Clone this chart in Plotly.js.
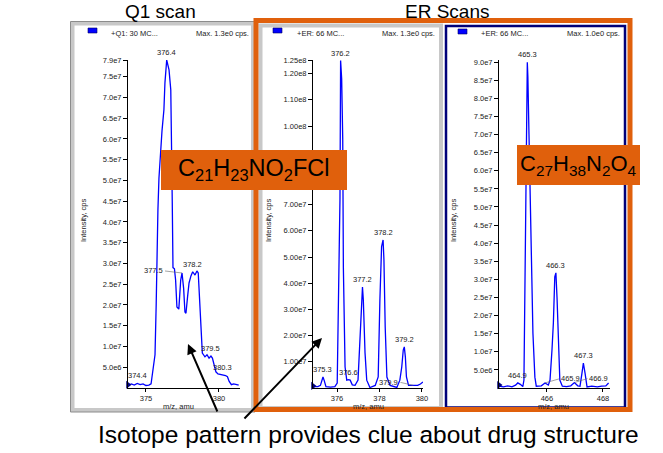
<!DOCTYPE html>
<html>
<head>
<meta charset="utf-8">
<script src="https://cdn.plot.ly/plotly-3.0.1.min.js"></script>
<style>html,body{margin:0;padding:0;background:#fff}#chart{width:663px;height:453px}</style>
</head>
<body>
<div id="chart"></div>
<script>
// ---------- DATA (intensities in units of 1e7 cps) ----------
// Q1 scan profile
const q1Mz  = [373.80,374.00,374.20,374.40,374.60,374.80,375.00,375.20,375.35,375.48,375.62,375.70,375.75,375.82,375.89,376.00,376.10,376.23,376.30,376.42,376.50,376.58,376.70,376.76,376.80,376.85,376.95,377.03,377.12,377.25,377.38,377.47,377.58,377.67,377.74,377.85,377.95,378.08,378.20,378.36,378.49,378.58,378.66,378.72,378.78,378.86,379.04,379.18,379.32,379.45,379.55,379.65,379.79,379.93,380.10,380.27,380.45,380.58,380.70,380.85,381.00,381.15,381.35];
const q1Int = [0.06,0.10,0.07,0.11,0.08,0.10,0.06,0.07,0.10,0.50,0.80,2.00,3.30,4.30,5.06,5.80,6.20,6.70,7.35,7.90,7.80,7.66,7.18,6.10,4.50,2.90,2.87,2.60,1.95,1.90,2.60,2.77,2.40,1.83,1.80,2.20,2.53,2.70,2.80,2.72,2.82,2.77,2.20,1.50,1.05,0.84,0.75,0.80,0.72,0.77,0.72,0.60,0.39,0.34,0.33,0.31,0.30,0.27,0.16,0.08,0.10,0.09,0.07];
// ER scan 1 profile
const er1Mz  = [374.87,375.10,375.22,375.28,375.34,375.40,375.48,375.70,375.90,376.01,376.06,376.11,376.14,376.17,376.22,376.27,376.28,376.30,376.38,376.46,376.55,376.62,376.72,376.85,376.99,377.08,377.15,377.20,377.24,377.32,377.40,377.55,377.80,377.94,378.02,378.10,378.17,378.21,378.27,378.35,378.50,378.82,378.96,379.05,379.12,379.17,379.22,379.27,379.37,379.60,379.80,379.93,380.05];
const er1Int = [0.05,0.05,0.10,0.30,0.42,0.28,0.05,0.03,0.05,0.19,3.10,5.90,7.20,12.5,11.8,9.50,7.20,4.60,0.80,0.30,0.32,0.30,0.12,0.10,0.30,2.10,3.50,3.85,3.36,1.34,0.30,0.02,0.10,0.42,3.36,5.40,5.65,4.90,2.33,0.42,0.10,0.02,0.30,0.80,1.45,1.57,1.18,0.42,0.10,0.10,0.10,0.15,0.23];
// ER scan 2 profile
const er2Mz  = [464.29,464.45,464.60,464.75,464.88,464.96,465.05,465.14,465.18,465.21,465.25,465.28,465.30,465.32,465.36,465.40,465.46,465.50,465.57,465.62,465.80,465.93,466.05,466.11,466.18,466.23,466.28,466.32,466.36,466.41,466.46,466.55,466.70,466.85,466.98,467.10,467.18,467.25,467.30,467.36,467.43,467.60,467.80,467.95,468.10,468.20];
const er2Int = [0.05,0.03,0.06,0.03,0.08,0.14,0.10,0.04,0.22,2.40,4.00,6.00,9.00,8.60,7.00,5.20,3.35,1.52,0.30,0.05,0.06,0.14,0.08,0.22,1.05,1.80,3.07,3.18,2.50,1.05,0.22,0.05,0.04,0.06,0.15,0.06,0.05,0.41,0.69,0.41,0.03,0.05,0.03,0.05,0.06,0.14];

// tick values / labels
const q1YTicks  = [0.5,1,1.5,2,2.5,3,3.5,4,4.5,5,5.5,6,6.5,7,7.5,7.9];
const q1YLabels = ["5.0e6","1.0e7","1.5e7","2.0e7","2.5e7","3.0e7","3.5e7","4.0e7","4.5e7","5.0e7","5.5e7","6.0e7","6.5e7","7.0e7","7.5e7","7.9e7"];
const er1YTicks  = [1,2,3,4,5,6,7,9,10,11,12,12.5];
const er1YLabels = ["1.00e7","2.00e7","3.00e7","4.00e7","5.00e7","6.00e7","7.00e7","9.00e7","1.00e8","1.10e8","1.20e8","1.25e8"];
const er2YTicks  = [0.5,1,1.5,2,2.5,3,3.5,4,4.5,5,5.5,6,6.5,7,7.5,8,8.5,9];
const er2YLabels = ["5.0e6","1.0e7","1.5e7","2.0e7","2.5e7","3.0e7","3.5e7","4.0e7","4.5e7","5.0e7","5.5e7","6.0e7","6.5e7","7.0e7","7.5e7","8.0e7","8.5e7","9.0e7"];
const q1XTicks = [375,380], er1XTicks = [376,378,380], er2XTicks = [466,468];

// peak labels: [mz, intensity, text, ax, ay]  (ax/ay = leader offset, 0 = plain label)
const q1Peaks  = [[376.42,7.90,"376.4",0,0],[374.45,0.11,"374.4",0,0],[377.47,2.77,"377.5",-17,-2],[378.20,2.80,"378.2",0,0],[379.45,0.77,"379.5",0,0],[380.27,0.31,"380.3",0,0]];
const er1Peaks = [[376.17,12.5,"376.2",0,0],[375.34,0.42,"375.3",0,0],[376.55,0.32,"376.6",0,0],[377.20,3.85,"377.2",0,0],[378.17,5.65,"378.2",0,0],[379.17,1.57,"379.2",0,0],[379.60,0.10,"379.9",-13,-3]];
const er2Peaks = [[465.30,9.00,"465.3",0,0],[464.96,0.14,"464.9",0,0],[466.32,3.18,"466.3",0,0],[465.93,0.14,"465.9",14,-4],[467.30,0.69,"467.3",0,0],[466.98,0.15,"466.9",13,-4]];

// ---------- LAYOUT HELPERS ----------
const W = 663, H = 453;
const px = x => x / W, py = y => 1 - y / H;
const FONT = "Liberation Sans, Arial, sans-serif";
const ORANGE = "#E0600C";

function rect(x0, y0, x1, y1, line, fill, layer) {
  return {type:"rect", xref:"paper", yref:"paper", x0:px(x0), x1:px(x1), y0:py(y1), y1:py(y0),
          line:line, fillcolor:fill || "rgba(0,0,0,0)", layer:layer || "below"};
}
function txt(x, y, t, size, opts) {
  return Object.assign({xref:"paper", yref:"paper", x:px(x), y:py(y), text:t, showarrow:false,
          font:{family:FONT, size:size, color:"#000"}, xanchor:"center", yanchor:"middle"}, opts || {});
}
const small = {family:FONT, size:7.5, color:"#222"};

const traceStyle = {mode:"lines", line:{color:"#0000ff", width:1.3}, hoverinfo:"skip", showlegend:false};
const traces = [
  Object.assign({x:q1Mz,  y:q1Int,  xaxis:"x",  yaxis:"y"},  traceStyle),
  Object.assign({x:er1Mz, y:er1Int, xaxis:"x2", yaxis:"y2"}, traceStyle),
  Object.assign({x:er2Mz, y:er2Int, xaxis:"x3", yaxis:"y3"}, traceStyle),
];
// small origin markers
[["x","y",373.77],["x2","y2",374.87],["x3","y3",464.29]].forEach(a => {
  traces.push({x:[a[2]], y:[0.08], xaxis:a[0], yaxis:a[1], mode:"markers", cliponaxis:false,
    marker:{symbol:"triangle-right", size:7, color:"#000080"}, hoverinfo:"skip", showlegend:false});
});

const tickFont = {family:FONT, size:7.5, color:"#222"};
function xax(dom, range, tv, anchor) {
  return {domain:[px(dom[0]), px(dom[1])], range:range, anchor:anchor, tickvals:tv, ticktext:tv.map(String),
    showline:true, linecolor:"#000", linewidth:1, ticks:"outside", ticklen:3, tickcolor:"#000",
    showgrid:false, zeroline:false, tickfont:tickFont, fixedrange:true};
}
function yax(anchor, range, tv, tt) {
  return {domain:[py(388), py(60)], range:range, anchor:anchor, tickvals:tv, ticktext:tt,
    showline:true, linecolor:"#000", linewidth:1, ticks:"outside", ticklen:4, tickcolor:"#000",
    showgrid:false, zeroline:false, tickfont:tickFont, fixedrange:true};
}

const shapes = [
  // Panel 1 frame
  rect(72.5, 23.5, 253, 410, {color:"#c8c8c8", width:4}),
  rect(70.5, 21.5, 255, 412, {color:"#8c8c8c", width:1}),
  // Panel 2 frame
  rect(260.5, 25.5, 441, 408, {color:"#c8c8c8", width:4}),
  // Panel 3 frame
  rect(446, 26, 625, 407.5, {color:"#00007a", width:2.5}),
  // legend squares
  rect(88, 28, 97, 33, {color:"#000060", width:0.6}, "#0000ff"),
  rect(273, 28, 282, 33, {color:"#000060", width:0.6}, "#0000ff"),
  rect(458, 29, 467, 34, {color:"#000060", width:0.6}, "#0000ff"),
  // Big orange ER box
  rect(256, 20.5, 630, 409.5, {color:ORANGE, width:5}, null, "above"),
  // Formula boxes
  rect(161, 150, 347, 190, {width:0}, ORANGE, "above"),
  rect(517, 145, 640, 185, {width:0}, ORANGE, "above"),
];

const ann = [
  txt(160, 11, "Q1 scan", 19),
  txt(447, 11, "ER Scans", 19),
  // headers
  txt(109, 33, "+Q1: 30 MC...", 7.5, {xanchor:"left", font:small}),
  txt(251, 33, "Max. 1.3e0 cps.", 7.5, {xanchor:"right", font:small}),
  txt(295, 33, "+ER: 66 MC...", 7.5, {xanchor:"left", font:small}),
  txt(437, 33, "Max. 1.3e0 cps.", 7.5, {xanchor:"right", font:small}),
  txt(479, 33, "+ER: 66 MC...", 7.5, {xanchor:"left", font:small}),
  txt(622, 33, "Max. 1.0e0 cps.", 7.5, {xanchor:"right", font:small}),
  // axis titles
  txt(83, 221, "Intensity, cps", 7.5, {textangle:-90, font:small}),
  txt(268, 221, "Intensity, cps", 7.5, {textangle:-90, font:small}),
  txt(453, 221, "Intensity, cps", 7.5, {textangle:-90, font:small}),
  txt(178, 406.5, "m/z, amu", 7.5, {font:small}),
  txt(368, 406.5, "m/z, amu", 7.5, {font:small}),
  txt(553, 406.5, "m/z, amu", 7.5, {font:small}),
  // formulas
  txt(254, 170, "C<sub>21</sub>H<sub>23</sub>NO<sub>2</sub>FCl", 23.5),
  txt(578.5, 165, "C<sub>27</sub>H<sub>38</sub>N<sub>2</sub>O<sub>4</sub>", 22),
  // bottom text
  txt(368, 434, "Isotope pattern provides clue about drug structure", 24.5),
  // arrows
  {xref:"paper", yref:"paper", x:px(188), y:py(344), ax:30, ay:69, text:"", showarrow:true,
   arrowhead:2, arrowsize:1, arrowwidth:2, arrowcolor:"#000"},
  {xref:"paper", yref:"paper", x:px(322), y:py(338), ax:-79, ay:82, text:"", showarrow:true,
   arrowhead:2, arrowsize:1, arrowwidth:2, arrowcolor:"#000"},
];

function peakAnn(list, xr, yr) {
  list.forEach(p => {
    const a = {xref:xr, yref:yr, x:p[0], y:p[1], text:p[2], font:small};
    if (p[3] === 0) { Object.assign(a, {showarrow:false, yanchor:"bottom", yshift:1}); }
    else { Object.assign(a, {showarrow:true, arrowhead:0, arrowwidth:0.6, arrowcolor:"#666", ax:p[3], ay:p[4],
             xanchor: p[3] < 0 ? "right" : "left", yanchor:"middle", standoff:0}); }
    ann.push(a);
  });
}
peakAnn(q1Peaks, "x", "y");
peakAnn(er1Peaks, "x2", "y2");
peakAnn(er2Peaks, "x3", "y3");

const layout = {
  width:W, height:H, margin:{l:0, r:0, t:0, b:0},
  paper_bgcolor:"#fff", plot_bgcolor:"rgba(0,0,0,0)", showlegend:false,
  xaxis:  xax([128,240], [373.77,381.44], q1XTicks, "y"),
  yaxis:  yax("x",  [0,7.9], q1YTicks, q1YLabels),
  xaxis2: xax([313,423], [374.87,380.05], er1XTicks, "y2"),
  yaxis2: yax("x2", [0,12.52], er1YTicks, er1YLabels),
  xaxis3: xax([499,610], [464.29,468.25], er2XTicks, "y3"),
  yaxis3: yax("x3", [0,9.06], er2YTicks, er2YLabels),
  shapes:shapes, annotations:ann,
};
Plotly.newPlot("chart", traces, layout, {displayModeBar:false, staticPlot:true});
</script>
</body>
</html>
